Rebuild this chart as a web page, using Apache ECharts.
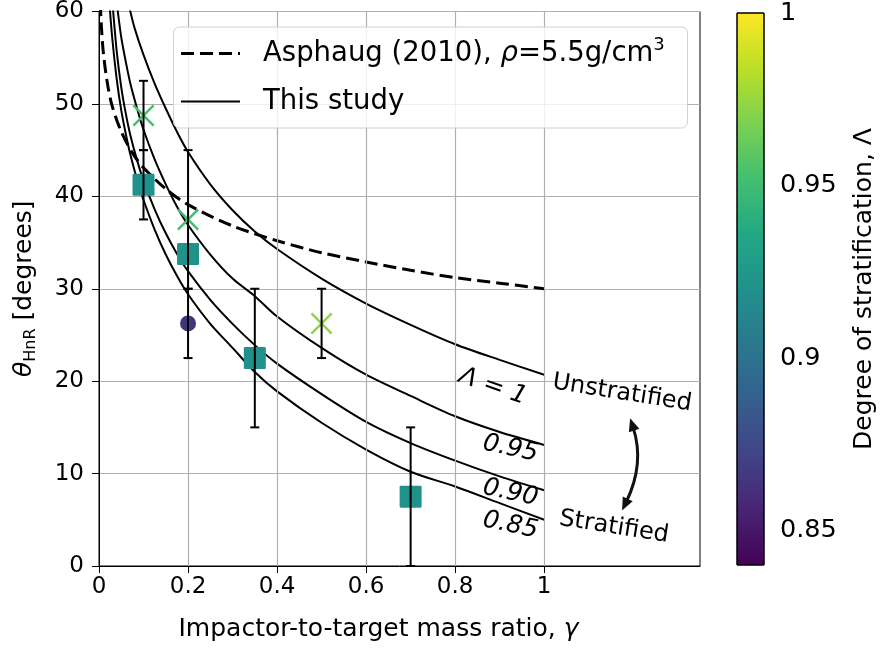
<!DOCTYPE html>
<html><head><meta charset="utf-8">
<script src="https://cdn.jsdelivr.net/npm/echarts@6/dist/echarts.min.js"></script>
<style>html,body{margin:0;padding:0;background:#fff}#c{width:880px;height:648px}</style>
</head><body><div id="c"></div>
<script>
// ---------------- data ----------------
const gammaTicks = [0, 0.2, 0.4, 0.6, 0.8, 1];
const lambdaTicks = [0.85, 0.9, 0.95, 1];

// Asphaug (2010) dashed curve [gamma, theta]
const asphaug = [[0.003,60.9],[0.005,58.7],[0.01,55.4],[0.02,51.9],[0.03,49.7],[0.05,47.0],[0.075,44.7],[0.1,43.1],[0.15,40.8],[0.2,39.1],[0.3,36.8],[0.4,35.2],[0.5,33.9],[0.6,32.9],[0.7,32.0],[0.8,31.2],[0.9,30.6],[1.0,30.0]];
// This study curves
const lam100 = [[0.068,60.5],[0.08,58.2],[0.1,55.3],[0.125,52.2],[0.15,49.5],[0.175,47.0],[0.2,44.8],[0.25,41.3],[0.3,38.5],[0.35,36.2],[0.4,34.3],[0.5,31.1],[0.6,28.4],[0.7,26.1],[0.8,24.0],[0.9,22.3],[1.0,20.7]];
const lam095 = [[0.041,60.5],[0.05,57.2],[0.06,54.6],[0.07,52.3],[0.085,49.6],[0.1,47.2],[0.125,44.0],[0.15,41.3],[0.175,38.9],[0.2,36.9],[0.25,33.7],[0.3,31.1],[0.35,29.2],[0.4,27.0],[0.5,23.6],[0.6,20.7],[0.7,18.4],[0.8,16.2],[0.9,14.5],[1.0,13.1]];
const lam090 = [[0.031,60.5],[0.04,55.6],[0.05,51.8],[0.06,49.0],[0.07,46.7],[0.085,44.0],[0.1,41.7],[0.125,38.6],[0.15,36.0],[0.175,33.8],[0.2,31.9],[0.25,28.8],[0.3,26.2],[0.35,23.9],[0.4,21.9],[0.5,18.6],[0.6,15.6],[0.7,13.3],[0.8,11.4],[0.9,9.7],[1.0,8.2]];
const lam085 = [[0.024,60.5],[0.03,57.0],[0.04,52.6],[0.05,49.3],[0.06,46.8],[0.07,44.6],[0.085,41.9],[0.1,39.6],[0.125,36.4],[0.15,33.7],[0.175,31.4],[0.2,29.4],[0.25,26.2],[0.3,23.6],[0.35,21.0],[0.4,18.9],[0.5,15.5],[0.6,12.6],[0.7,10.2],[0.8,8.6],[0.9,6.8],[1.0,5.0]];

// simulation points [gamma, theta, Lambda]
const squares = [[0.1,41.25,0.92],[0.2,33.75,0.92],[0.35,22.5,0.92],[0.7,7.5,0.92]];
const crosses = [[0.1,48.75,0.952],[0.2,37.5,0.952],[0.5,26.25,0.973]];
const circles = [[0.2,26.25,0.864]];
// error bars [gamma, low, high]
const errorBars = [[0.1,45,52.5],[0.1,37.5,45],[0.2,30,45],[0.2,22.5,30],[0.35,15,30],[0.5,22.5,30],[0.7,0,15]];

// legend entries
const legendNames = ['Asphaug (2010), ρ=5.5g/cm³', 'This study'];

// annotation texts (data coords) and rotation in degrees
const curveLabels = ['Λ = 1', '0.95', '0.90', '0.85'];
const curveLabelPos = [[0.885,19.4],[0.924,12.7],[0.924,7.9],[0.924,4.4]];
const curveLabelRot = [19, 12, 12, 12];
const sideLabels = ['Unstratified', 'Stratified'];
const sideLabelPos = [[1.175,18.7],[1.157,4.2]];
const sideLabelRot = [9, 9];
const arrowPts = [[1.193,16.0],[1.226,11.1],[1.175,6.0]];

const viridis = ['#440154','#482475','#414487','#355f8d','#2a788e','#21918c','#22a884','#44bf70','#7ad151','#bddf26','#fde725'];
const FONT = 'DejaVu Sans';
const DASH = [13, 6];

const xPath = 'path://M0,1.6L1.6,0L10,8.4L18.4,0L20,1.6L11.6,10L20,18.4L18.4,20L10,11.6L1.6,20L0,18.4L8.4,10Z';
const sqPath = 'path://M1.2,0H18.8Q20,0 20,1.2V18.8Q20,20 18.8,20H1.2Q0,20 0,18.8V1.2Q0,0 1.2,0Z';

function curve(name, data, dashed) {
  return {
    type: 'line', name: name, data: data, xAxisIndex: 0, yAxisIndex: 0,
    symbol: 'none', showSymbol: false, smooth: 0.3, clip: true, z: 3,
    lineStyle: dashed ? {color:'#000', width:3, type:DASH} : {color:'#000', width:2},
    itemStyle: {color:'#000'}, animation: false
  };
}

const chart = echarts.init(document.getElementById('c'), null, {renderer:'canvas', width:880, height:648});

const option = {
  backgroundColor: '#fff',
  animation: false,
  textStyle: {fontFamily: FONT},
  grid: [
    {left:99, top:10, width:601, height:556, show:true, borderColor:'#000', borderWidth:1, backgroundColor:'rgba(0,0,0,0)'},
    {left:737, top:10, width:27, height:555}
  ],
  xAxis: [
    {type:'value', gridIndex:0, min:0, max:1.35,
     name:'Impactor-to-target mass ratio, {i|γ}', nameLocation:'middle', nameGap:51,
     nameTextStyle:{fontSize:25, fontFamily:FONT, color:'#000', padding:[0,42,0,0], rich:{i:{fontSize:25, fontStyle:'italic', fontFamily:FONT}}},
     axisLine:{show:true, lineStyle:{color:'#000', width:1}},
     axisTick:{show:true, inside:false, length:7, customValues:gammaTicks, lineStyle:{color:'#000', width:1}},
     axisLabel:{show:true, customValues:gammaTicks, fontSize:23, color:'#000', fontFamily:FONT, margin:10, formatter:v=>String(v)},
     splitLine:{show:false}},
    {type:'value', gridIndex:1, min:0, max:1, show:false}
  ],
  yAxis: [
    {type:'value', gridIndex:0, min:0, max:60, interval:10,
     name:'{a|θ}{b|HnR}{c| [degrees]}', nameLocation:'middle', nameGap:60, nameRotate:90,
     nameTextStyle:{fontFamily:FONT, color:'#000', rich:{
       a:{fontSize:25, fontStyle:'italic', fontFamily:FONT, lineHeight:30, verticalAlign:'middle'},
       b:{fontSize:16, fontFamily:FONT, lineHeight:14, verticalAlign:'bottom'},
       c:{fontSize:25, fontFamily:FONT, lineHeight:30, verticalAlign:'middle'}}},
     axisLine:{show:true, lineStyle:{color:'#000', width:1}},
     axisTick:{show:true, inside:false, length:7, lineStyle:{color:'#000', width:1}},
     axisLabel:{fontSize:23, color:'#000', fontFamily:FONT, margin:15},
     splitLine:{show:true, lineStyle:{color:'#b0b0b0', width:1.2}}},
    {type:'value', gridIndex:1, min:0.84, max:1.0, position:'right',
     name:'Degree of stratification, Λ', nameLocation:'middle', nameGap:88, nameRotate:90,
     nameTextStyle:{fontSize:25, fontFamily:FONT, color:'#000'},
     axisLine:{show:false},
     axisTick:{show:true, inside:false, length:8, customValues:lambdaTicks, lineStyle:{color:'#000', width:1}},
     axisLabel:{show:true, customValues:lambdaTicks, fontSize:25.5, color:'#000', fontFamily:FONT, margin:16, formatter:v=>String(v)},
     splitLine:{show:false}}
  ],
  visualMap: [{
    type:'continuous', show:false, min:0.84, max:1.0, dimension:2,
    seriesIndex:[7,8,9], inRange:{color:viridis}
  }],
  series: [
    // 0: vertical grid lines
    {type:'scatter', name:'grid', data:[], xAxisIndex:0, yAxisIndex:0, z:1, silent:true,
     markLine:{silent:true, symbol:['none','none'], label:{show:false}, animation:false,
       lineStyle:{color:'#b0b0b0', width:1.2, type:'solid'},
       data: gammaTicks.filter(v => v > 0).map(v => ({xAxis:v}))}},
    // 1-5: curves
    curve(legendNames[0], asphaug, true),
    curve(legendNames[1], lam100, false),
    curve('Λ=0.95', lam095, false),
    curve('Λ=0.90', lam090, false),
    curve('Λ=0.85', lam085, false),
    // 6: colorbar
    {type:'custom', name:'colorbar', xAxisIndex:1, yAxisIndex:1, data:[[0, 0.84, 1.0]], silent:true,
     renderItem:(params, api) => {
       const p1 = api.coord([0, api.value(2)]);
       const p2 = api.coord([1, api.value(1)]);
       return {type:'rect', shape:{x:p1[0], y:p1[1], width:p2[0]-p1[0], height:p2[1]-p1[1]},
         style:{fill:new echarts.graphic.LinearGradient(0,1,0,0, viridis.map((c,i)=>({offset:i/(viridis.length-1), color:c}))),
                stroke:'#000', lineWidth:1}};
     }},
    // 7: squares
    {type:'scatter', name:'squares', data:squares, symbol:sqPath, symbolSize:22, z:4, itemStyle:{opacity:1}},
    // 8: crosses
    {type:'scatter', name:'crosses', data:crosses, symbol:xPath, symbolSize:22, z:4, itemStyle:{opacity:1}},
    // 9: circles
    {type:'scatter', name:'circles', data:circles, symbol:'circle', symbolSize:16, z:4, itemStyle:{opacity:1}},
    // 10: error bars
    {type:'custom', name:'errors', data:errorBars, z:5, xAxisIndex:0, yAxisIndex:0, encode:{x:0, y:[1,2]},
     renderItem:(params, api) => {
       const x = api.value(0);
       const lo = api.coord([x, api.value(1)]);
       const hi = api.coord([x, api.value(2)]);
       const cw = 4.5;
       const st = {stroke:'#000', lineWidth:2};
       return {type:'group', children:[
         {type:'line', shape:{x1:lo[0], y1:lo[1], x2:hi[0], y2:hi[1]}, style:st},
         {type:'line', shape:{x1:lo[0]-cw, y1:lo[1], x2:lo[0]+cw, y2:lo[1]}, style:st},
         {type:'line', shape:{x1:hi[0]-cw, y1:hi[1], x2:hi[0]+cw, y2:hi[1]}, style:st}
       ]};
     }}
  ]
};
chart.setOption(option);

// ---- legend box, curve labels and arrow (positions from the axes) ----
function px(p) { return chart.convertToPixel({gridIndex:0}, p); }
const g = [];
(function legendBox() {
  const gr = chart.getModel().getComponent('grid', 0).coordinateSystem.getRect();
  const L = gr.x + 74, T = gr.y + 15, W = 514, H = 101;
  g.push({type:'rect', z:30, shape:{x:L+0.5, y:T+0.5, width:W, height:H, r:6},
    style:{fill:'rgba(255,255,255,0.8)', stroke:'#d0d0d0', lineWidth:1}});
  const rows = [T + 27, T + 75];
  g.push({type:'line', z:31, shape:{x1:L+8, y1:rows[0], x2:L+67, y2:rows[0]}, style:{stroke:'#000', lineWidth:3, lineDash:DASH}});
  g.push({type:'line', z:31, shape:{x1:L+8, y1:rows[1], x2:L+67, y2:rows[1]}, style:{stroke:'#000', lineWidth:2}});
  g.push({type:'text', z:31, x:L+90, y:rows[0], style:{
    text:'{t|Asphaug (2010), }{i|ρ}{t|=5.5g/cm}{s|3}', verticalAlign:'middle', align:'left',
    rich:{t:{fontSize:27.5, fontFamily:FONT, fill:'#000', lineHeight:34, verticalAlign:'middle'},
          i:{fontSize:27.5, fontFamily:FONT, fontStyle:'italic', fill:'#000', lineHeight:34, verticalAlign:'middle'},
          s:{fontSize:18, fontFamily:FONT, fill:'#000', lineHeight:20, verticalAlign:'top'}}}});
  g.push({type:'text', z:31, x:L+90, y:rows[1], style:{text:legendNames[1], fontSize:27.5, fontFamily:FONT, fill:'#000', verticalAlign:'middle', align:'left'}});
})();
curveLabels.forEach((t, i) => {
  const p = px(curveLabelPos[i]);
  g.push({type:'text', x:p[0], y:p[1], rotation:-curveLabelRot[i]*Math.PI/180, z:20,
    style:{text:t, fontSize:25, fontStyle:'italic', fontFamily:FONT, fill:'#000', align:'center', verticalAlign:'middle'}});
});
sideLabels.forEach((t, i) => {
  const p = px(sideLabelPos[i]);
  g.push({type:'text', x:p[0], y:p[1], rotation:-sideLabelRot[i]*Math.PI/180, z:20,
    style:{text:t, fontSize:24, fontFamily:FONT, fill:'#000', align:'center', verticalAlign:'middle'}});
});
(function() {
  const a = px(arrowPts[0]), c = px(arrowPts[1]), b = px(arrowPts[2]);
  const head = 13, hw = 5.5;
  function tri(tip, from) {
    const dx = tip[0]-from[0], dy = tip[1]-from[1], L = Math.hypot(dx, dy);
    const ux = dx/L, uy = dy/L;
    const bx = tip[0]-ux*head, by = tip[1]-uy*head;
    return {pts:[tip, [bx-uy*hw, by+ux*hw], [bx+uy*hw, by-ux*hw]], base:[tip[0]-ux*(head-3), tip[1]-uy*(head-3)]};
  }
  const t1 = tri(a, c), t2 = tri(b, c);
  g.push({type:'bezierCurve', z:20, shape:{x1:t1.base[0], y1:t1.base[1], x2:t2.base[0], y2:t2.base[1], cpx1:c[0], cpy1:c[1]},
    style:{stroke:'#111', lineWidth:3, fill:null}});
  g.push({type:'polygon', z:20, shape:{points:t1.pts}, style:{fill:'#111'}});
  g.push({type:'polygon', z:20, shape:{points:t2.pts}, style:{fill:'#111'}});
})();
chart.setOption({graphic: g});
</script>
</body></html>
